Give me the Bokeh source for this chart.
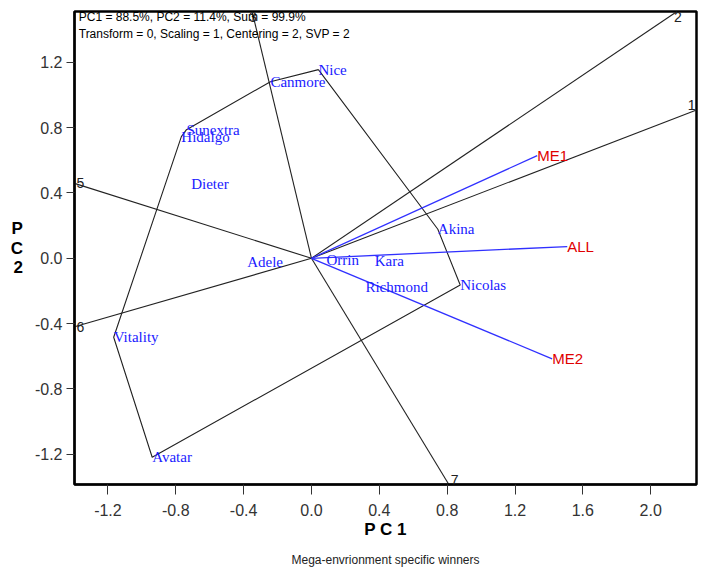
from bokeh.plotting import figure
from bokeh.models import (Range1d, FixedTicker, NumeralTickFormatter, Label, Title)
from bokeh.core.properties import value
from bokeh.embed import file_html
from bokeh.resources import INLINE

# ---- data ----
genotypes = ["Nice", "Canmore", "Sunextra", "Hidalgo", "Dieter", "Adele", "Orrin",
             "Kara", "Richmond", "Nicolas", "Akina", "Vitality", "Avatar"]
gen_pc1 = [0.041, -0.242, -0.737, -0.767, -0.709, -0.379, 0.088,
           0.373, 0.318, 0.877, 0.745, -1.166, -0.939]
gen_pc2 = [1.156, 1.082, 0.788, 0.745, 0.456, -0.024, -0.010,
           -0.018, -0.178, -0.164, 0.178, -0.484, -1.219]

hull = ["Nice", "Akina", "Nicolas", "Avatar", "Vitality", "Hidalgo", "Sunextra", "Canmore", "Nice"]

environments = ["ME1", "ALL", "ME2"]
env_pc1 = [1.331, 1.508, 1.419]
env_pc2 = [0.629, 0.072, -0.616]

rays = ["1", "2", "3", "5", "6", "7"]
ray_pc1 = [2.27, 2.155, -0.35, -1.397, -1.397, 0.81]
ray_pc2 = [0.909, 1.512, 1.512, 0.459, -0.42, -1.386]

x_ticks = [-1.2, -0.8, -0.4, 0.0, 0.4, 0.8, 1.2, 1.6, 2.0]
y_ticks = [-1.2, -0.8, -0.4, 0.0, 0.4, 0.8, 1.2]

info_line1 = "PC1 = 88.5%, PC2 = 11.4%, Sum = 99.9%"
info_line2 = "Transform = 0, Scaling = 1, Centering = 2, SVP = 2"

X_MIN, X_MAX, Y_MIN, Y_MAX = -1.397, 2.27, -1.386, 1.512

# ---- figure ----
p = figure(width=708, height=576, output_backend="svg", toolbar_location=None,
           x_range=Range1d(X_MIN, X_MAX), y_range=Range1d(Y_MIN, Y_MAX),
           min_border_left=74, min_border_right=12, min_border_top=11, min_border_bottom=92)
p.grid.visible = False
p.outline_line_color = "black"
p.outline_line_width = 2.5
p.background_fill_color = "white"
p.border_fill_color = "white"

SANS = "Liberation Sans"
SERIF = "Liberation Serif"

for ax in (p.xaxis[0], p.yaxis[0]):
    ax.axis_line_color = "black"
    ax.axis_line_width = 2
    ax.major_tick_line_color = "#333333"
    ax.major_tick_line_width = 1
    ax.minor_tick_line_color = None
    ax.major_tick_in = 0
    ax.major_label_text_font = SANS
    ax.major_label_text_font_size = "16px"
    ax.major_label_text_color = "#333333"
    ax.axis_label_text_font = SANS
    ax.axis_label_text_font_style = "bold"
    ax.axis_label_text_font_size = "17px"
    ax.axis_label_text_color = "black"

p.xaxis.ticker = FixedTicker(ticks=x_ticks)
p.yaxis.ticker = FixedTicker(ticks=y_ticks)
p.xaxis.formatter = NumeralTickFormatter(format="0.0")
p.yaxis.formatter = NumeralTickFormatter(format="0.0")
p.xaxis.major_tick_out = 10
p.yaxis.major_tick_out = 8
p.xaxis.major_label_standoff = 9
p.yaxis.major_label_standoff = 4
p.xaxis.axis_label = "P C 1"
p.xaxis.axis_label_standoff = 1
p.yaxis.axis_label = "P\nC\n2"
p.yaxis.axis_label_orientation = "horizontal"
p.yaxis.axis_label_standoff = 9
p.yaxis.axis_label_text_line_height = 1.05

sub = Title(text="Mega-envrionment specific winners", align="center",
            text_font=SANS, text_font_size="12px", text_font_style="normal",
            text_color="#222222", standoff=19)
p.add_layout(sub, "below")

# ---- rays from origin (perpendicular to polygon sides) ----
p.multi_line(xs=[[0, x] for x in ray_pc1], ys=[[0, y] for y in ray_pc2],
             line_color="#222222", line_width=1.1)
for t, x, y in zip(rays, ray_pc1, ray_pc2):
    align, base, xo = "left", "middle", 2
    if x >= X_MAX - 1e-9:
        align, base, xo = "right", "bottom", -1
    elif y >= Y_MAX - 1e-9:
        base = "top"
        xo = -3
    elif y <= Y_MIN + 1e-9:
        base = "bottom"
    p.add_layout(Label(x=x, y=y, text=t, text_align=align, text_baseline=base,
                       x_offset=xo, text_font=SANS, text_font_size="14px",
                       text_color="#222222"))

# ---- polygon ----
idx = {g: i for i, g in enumerate(genotypes)}
p.line([gen_pc1[idx[g]] for g in hull], [gen_pc2[idx[g]] for g in hull],
       line_color="#222222", line_width=1.1)

# ---- environment vectors ----
p.segment(x0=[0] * len(env_pc1), y0=[0] * len(env_pc2), x1=env_pc1, y1=env_pc2,
          line_color="#3030FF", line_width=1.3)
p.text(x=env_pc1, y=env_pc2, text=environments, text_align="left",
       text_baseline="middle", text_font=value(SANS), text_font_size="15px",
       text_color="#E00000")

# ---- genotype labels ----
p.text(x=gen_pc1, y=gen_pc2, text=genotypes, text_align="left",
       text_baseline="middle", text_font=value(SERIF), text_font_size="15px",
       text_color="#1A1AFF")

# ---- info text ----
p.add_layout(Label(x=-1.372, y=1.476, text=info_line1, text_font=SANS,
                   text_font_size="12px", text_baseline="middle", text_color="black"))
p.add_layout(Label(x=-1.372, y=1.374, text=info_line2, text_font=SANS,
                   text_font_size="12px", text_baseline="middle", text_color="black"))

open("out.html", "w").write(file_html(p, INLINE))
